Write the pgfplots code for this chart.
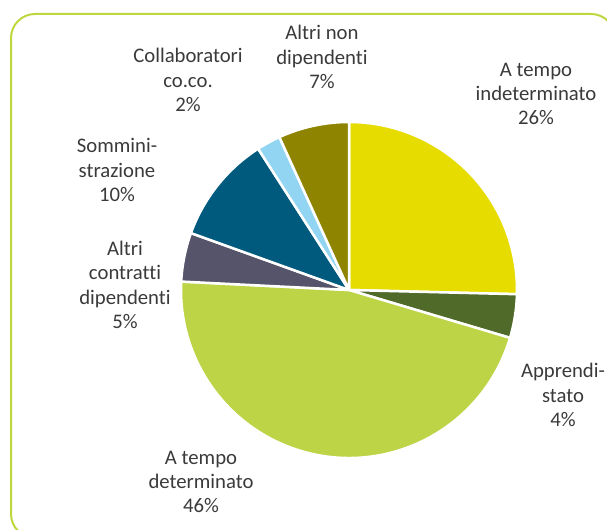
\documentclass[border=0pt]{standalone}
\usepackage{pgfplots}
\pgfplotsset{compat=1.18}
\usepackage{fontspec}
\setmainfont[Ligatures=NoCommon]{Carlito}
\definecolor{cInd}{HTML}{E6DC00}
\definecolor{cApp}{HTML}{506A29}
\definecolor{cDet}{HTML}{BDD447}
\definecolor{cAltC}{HTML}{55546A}
\definecolor{cSom}{HTML}{005A7E}
\definecolor{cCol}{HTML}{92D5F2}
\definecolor{cAltN}{HTML}{8E8400}
\definecolor{cBord}{HTML}{BED73F}
\definecolor{cTxt}{HTML}{3A3A3A}
% slice: start percent, end percent, colour
\newcommand\pieslice[3]{%
  \fill[#3,draw=white,line width=2.5bp,line join=round]
    (axis cs:349,240) -- (axis cs:{349+168*cos(90-3.6*#1)},{240+168*sin(90-3.6*#1)})
    arc[start angle={90-3.6*#1}, end angle={90-3.6*#2}, radius=168bp] -- cycle;}
\begin{document}
\begin{tikzpicture}
\begin{axis}[
  scale only axis, width=607bp, height=530bp,
  xmin=0, xmax=607, ymin=0, ymax=530,
  hide axis, clip=true]
% shares (percent): indeterminato 25.4, apprendistato 4.2, determinato 46.2,
% altri contratti 4.7, somministrazione 10.4, collaboratori 2.3, altri non dip. 6.8
\draw[cBord, line width=2bp, rounded corners=24bp] (axis cs:11,516) rectangle (axis cs:615,-8);
\pieslice{0}{25.4}{cInd}
\pieslice{25.4}{29.6}{cApp}
\pieslice{29.6}{75.8}{cDet}
\pieslice{75.8}{80.5}{cAltC}
\pieslice{80.5}{90.9}{cSom}
\pieslice{90.9}{93.2}{cCol}
\pieslice{93.2}{100}{cAltN}
\begin{scope}[every node/.style={align=center, text=cTxt, font=\fontsize{20.8}{24.5}\selectfont, inner sep=0pt}]
\node at (axis cs:536,436) {A tempo\\indeterminato\\26\%};
\node at (axis cs:563,135) {Apprendi-\\stato\\4\%};
\node at (axis cs:201,48) {A tempo\\determinato\\46\%};
\node at (axis cs:125,245) {Altri\\contratti\\dipendenti\\5\%};
\node at (axis cs:117,360) {Sommini-\\strazione\\10\%};
\node at (axis cs:188,450) {Collaboratori\\co.co.\\2\%};
\node at (axis cs:322,473) {Altri non\\dipendenti\\7\%};
\end{scope}
\end{axis}
\pgfresetboundingbox
\path (current axis.south west) rectangle (current axis.north east);
\end{tikzpicture}
\end{document}
